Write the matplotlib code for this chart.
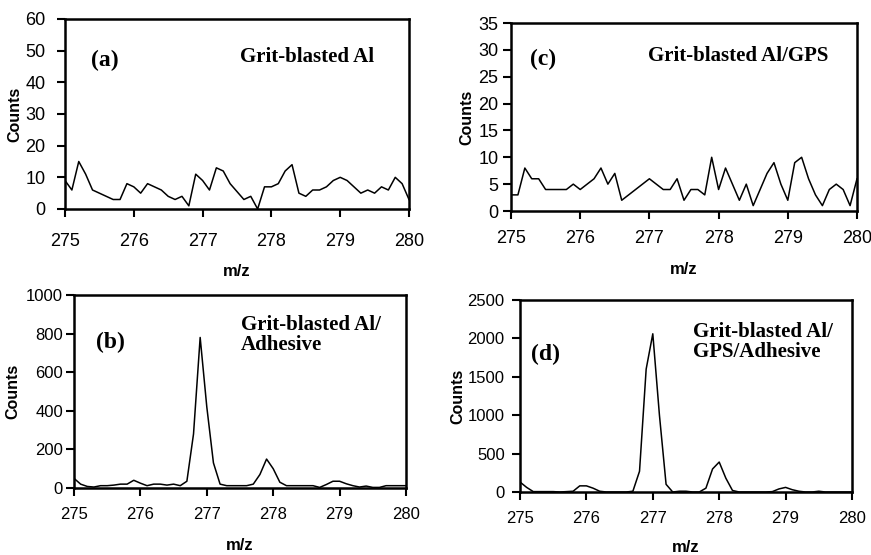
import numpy as np
import matplotlib
matplotlib.use("Agg")
import matplotlib.pyplot as plt

# m/z sampled every 0.1 from 275 to 280
mz = [275.0 + 0.1 * i for i in range(51)]

counts_a = [9, 6, 15, 11, 6, 5, 4, 3, 3, 8,
            7, 5, 8, 7, 6, 4, 3, 4, 1, 11,
            9, 6, 13, 12, 8, 5.5, 3, 4, 0, 7,
            7, 8, 12, 14, 5, 4, 6, 6, 7, 9,
            10, 9, 7, 5, 6, 5, 7, 6, 10, 8,
            3]
counts_c = [3, 3, 8, 6, 6, 4, 4, 4, 4, 5,
            4, 5, 6, 8, 5, 7, 2, 3, 4, 5,
            6, 5, 4, 4, 6, 2, 4, 4, 3, 10,
            4, 8, 5, 2, 5, 1, 4, 7, 9, 5,
            2, 9, 10, 6, 3, 1, 4, 5, 4, 1,
            6]
counts_b = [50, 20, 8, 5, 12, 12, 15, 20, 20, 40,
            25, 12, 20, 20, 15, 20, 12, 35, 280, 780,
            420, 130, 20, 12, 12, 12, 12, 20, 70, 150,
            100, 30, 12, 12, 12, 12, 12, 3, 18, 35,
            35, 22, 12, 5, 10, 3, 3, 12, 12, 12,
            12]
counts_d = [130, 60, 5, 5, 5, 5, 0, 5, 10, 80,
            80, 50, 10, 0, 0, 0, 0, 10, 270, 1600,
            2060, 1000, 100, 0, 10, 10, 0, 0, 50, 300,
            390, 180, 20, 0, 0, 0, 0, 0, 5, 40,
            60, 30, 10, 0, 0, 10, 0, 0, 0, 0,
            0]

W, H = 871, 555
fig = plt.figure(figsize=(W / 100, H / 100), dpi=100)


def fx(px):
    return px / W


def fy(py):
    return 1 - py / H


panels = [
    # box (l, r, t, b) px, data, ymax, step, tick size, x pad, y pad,
    # tag, tag pos, label, label pos, ylabel x, xlabel y
    ((65, 409, 19, 209), counts_a, 60, 10, 13, 11, 8,
     "(a)", (105, 60), "Grit-blasted Al", (240, 57), 15, 272),
    ((511, 857, 23, 211), counts_c, 35, 5, 13, 8, 3,
     "(c)", (543, 59), "Grit-blasted Al/GPS", (648, 56), 467, 270),
    ((74, 406, 295, 488), counts_b, 1000, 200, 12, 8, 2,
     "(b)", (110, 342), "Grit-blasted Al/\nAdhesive", (241, 335), 13, 545),
    ((520, 852, 300, 492), counts_d, 2500, 500, 12, 8, 5,
     "(d)", (545, 354), "Grit-blasted Al/\nGPS/Adhesive", (693, 342), 458, 548),
]

for (box, y, ymax, ystep, tsize, xpad, ypad,
     tag, tag_xy, label, label_xy, ylab_x, xlab_y) in panels:
    l, r, t, b = box
    ax = fig.add_axes([fx(l), fy(b), (r - l) / W, (b - t) / H])
    ax.plot(mz, y, color="black", lw=1.1)
    ax.set_xlim(275, 280)
    ax.set_ylim(0, ymax)
    ax.set_xticks(np.arange(275, 281, 1))
    ax.set_yticks(np.arange(0, ymax + ystep, ystep))
    for s in ax.spines.values():
        s.set_linewidth(1.8)
    ax.tick_params(direction="out", length=6, width=1.5, labelsize=tsize)
    ax.tick_params(axis="x", pad=xpad)
    ax.tick_params(axis="y", pad=ypad)
    for lab in ax.get_xticklabels() + ax.get_yticklabels():
        lab.set_family("Liberation Sans")

    fig.text(fx(ylab_x), fy((t + b) / 2), "Counts", rotation=90, fontsize=11.5,
             fontweight="bold", family="Liberation Sans", ha="center", va="center")
    fig.text(fx((l + r) / 2), fy(xlab_y), "m/z", fontsize=12,
             fontweight="bold", family="Liberation Sans", ha="center", va="center")

    fig.text(fx(tag_xy[0]), fy(tag_xy[1]), tag, fontsize=17, fontweight="bold",
             family="Liberation Serif", ha="center", va="center")
    fig.text(fx(label_xy[0]), fy(label_xy[1]), label, fontsize=15, fontweight="bold",
             family="Liberation Serif", ha="left", va="center", linespacing=1.05)

fig.savefig("out.png", dpi=100)
